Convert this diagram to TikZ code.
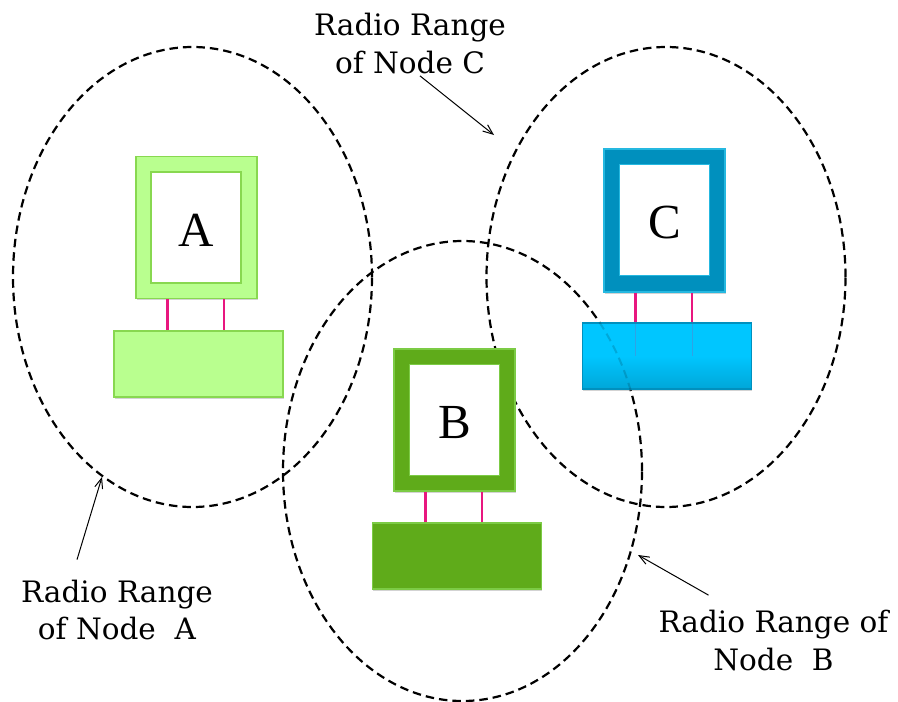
\documentclass[tikz,border=0pt]{standalone}
\usepackage{fontspec}
\setmainfont{DejaVu Serif}
\newfontfamily\letterfont{Liberation Serif}
\usetikzlibrary{shapes.geometric,calc,shadows,arrows.meta}
\definecolor{lgreen}{HTML}{B9FF8F}
\definecolor{lgreenb}{HTML}{88D850}
\definecolor{dgreen}{HTML}{5FAB1A}
\definecolor{dgreenb}{HTML}{7CCB45}
\definecolor{cblue}{HTML}{0090BE}
\definecolor{cblueb}{HTML}{25B8E0}
\definecolor{devblue}{HTML}{00C6FF}
\definecolor{devbluelow}{HTML}{00A6D8}
\definecolor{linkpink}{HTML}{E8177F}
\newcommand{\lowered}[1]{\rule{0pt}{38pt}#1}
\tikzset{
  x=1pt,y=-1pt,
  rangeoval/.style={draw=black,line width=2.2pt,dash pattern=on 8.5pt off 5pt,shape=ellipse,inner sep=0pt,minimum width=359pt,minimum height=460pt},
  boxbase/.style={rectangle,inner sep=0pt,line width=1.2pt,drop shadow={shadow xshift=0.6pt,shadow yshift=-1.5pt,opacity=.35}},
  monitor/.style={boxbase,minimum width=121pt,minimum height=142pt},
  screen/.style={rectangle,inner sep=0pt,fill=white,line width=1.2pt,minimum width=90pt,minimum height=111pt,font=\letterfont\fontsize{49}{49}\selectfont},
  device/.style={boxbase,minimum width=169pt,minimum height=66pt},
  link/.style={draw=linkpink,line width=2.4pt},
  faintlink/.style={draw=linkpink,line width=.8pt,opacity=.2},
  note/.style={align=center,inner sep=0pt,font=\fontsize{29.5}{37.5}\selectfont},
  pointer/.style={draw=black,line width=1pt,-{Straight Barb[length=10pt,width=8pt]}}
}
\begin{document}
\begin{tikzpicture}
\useasboundingbox (0,0) rectangle (898,702);
\node[rangeoval] (rangeA) at (192.5,277) {};
\node[rangeoval] (rangeC) at (666,277) {};
\node[rangeoval] (rangeB) at (462.5,471) {};

\node[monitor,fill=lgreen,draw=lgreenb] (monA) at (196.5,227.5) {};
\node[screen,draw=lgreenb] (scrA) at (196,227.5) {\lowered{A}};
\node[device,fill=lgreen,draw=lgreenb] (boxA) at (198.5,364) {};

\node[monitor,fill=cblue,draw=cblueb,minimum height=143pt] (monC) at (664.5,220.5) {};
\node[screen,draw=cblueb] (scrC) at (664.5,220) {\lowered{C}};
\node[device,draw=cblue,top color=devblue,bottom color=devbluelow,middle color=devblue] (boxC) at (667,356) {};

\node[monitor,fill=dgreen,draw=dgreenb] (monB) at (454.5,420) {};
\node[screen,draw=dgreenb] (scrB) at (454.5,420) {\lowered{B}};
\node[device,fill=dgreen,draw=dgreenb] (boxB) at (457,556) {};

\begin{scope}
  \clip (boxC.south west) rectangle (boxC.north east);
  \draw[line width=2pt,dash pattern=on 8.5pt off 5pt,opacity=.15] (rangeB.center) ellipse [x radius=179.5pt,y radius=230pt];
\end{scope}

\foreach \m/\b in {monA/boxA,monC/boxC,monB/boxB}{
  \coordinate (\m-l) at ($(\m.south west)!.264!(\m.south east)$);
  \coordinate (\m-r) at ($(\m.south west)!.727!(\m.south east)$);
  \draw[link] (\m-l) -- (\m-l |- \b.north);
  \draw[link] (\m-r) -- (\m-r |- \b.north);
}
\draw[faintlink] (monC-l |- boxC.north) -- (monC-l |- boxC.center);
\draw[faintlink] (monC-r |- boxC.north) -- (monC-r |- boxC.center);

\node[note] (noteC) at (410,43.5) {Radio Range\\of Node C};
\node[note] (noteA) at (117,610) {Radio Range\\of Node~~A};
\node[note] (noteB) at (773.5,640.5) {Radio Range of\\Node~~B};

\coordinate (tipC) at (494,135);
\coordinate (tipA) at (102,477);
\coordinate (tipB) at (638,555);
\draw[pointer] ($(noteC.south)+(10,2)$) -- (tipC);
\draw[pointer] ($(noteA.north)+(-40,-20)$) -- (tipA);
\draw[pointer] ($(noteB.north)+(-65,-15)$) -- (tipB);
\end{tikzpicture}
\end{document}
